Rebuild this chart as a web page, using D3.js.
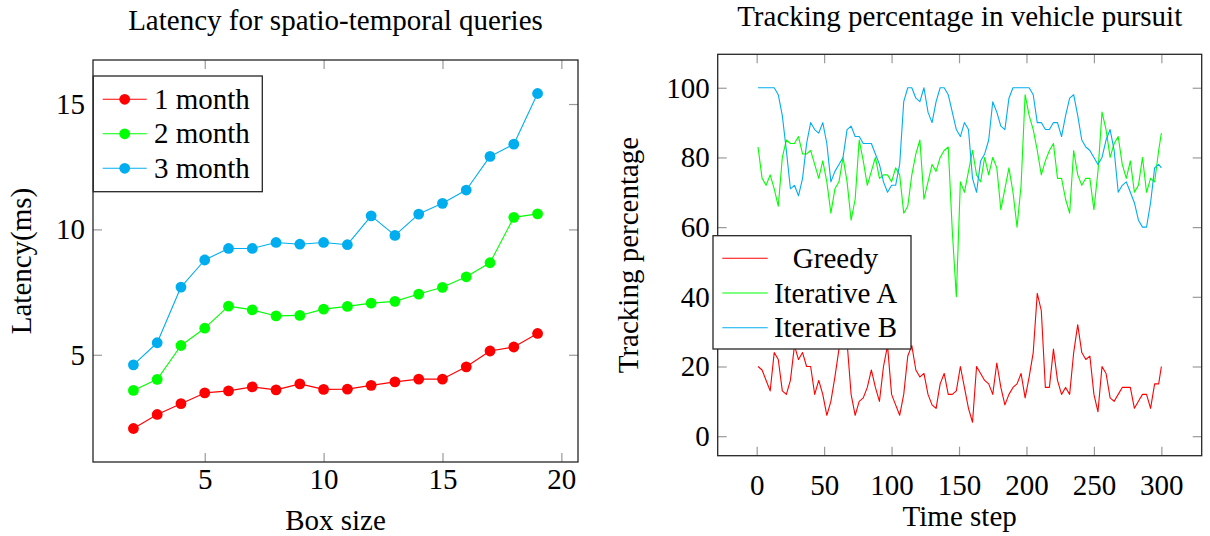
<!DOCTYPE html>
<html>
<head>
<meta charset="utf-8">
<script src="https://cdn.jsdelivr.net/npm/d3@7"></script>
<style>
body { margin: 0; background: #fff; }
svg { display: block; font-family: "Liberation Serif", "Times New Roman", serif; }
.axis path { display: none; }
.axis line { stroke: #9a9a9a; stroke-width: 1.2; }
.axis text { font-family: "Liberation Serif", serif; font-size: 29px; fill: #000; }
.frame { fill: none; stroke: #262626; stroke-width: 1.3; }
.title, .axis-label, .legend-text { font-size: 29px; fill: #000; }
.line { fill: none; stroke-width: 1.1; stroke-linejoin: round; }
.legend-box { fill: #fff; stroke: #262626; stroke-width: 1.3; }
</style>
</head>
<body>
<svg width="1210" height="536"></svg>
<script>
//Left chart data: latency (ms) against box size.
var boxSizes = [2, 3, 4, 5, 6, 7, 8, 9, 10, 11, 12, 13, 14, 15, 16, 17, 18, 19];
var latency1 = [2.06, 2.62, 3.05, 3.48, 3.56, 3.72, 3.60, 3.84, 3.62, 3.63, 3.78, 3.92, 4.03, 4.03, 4.52, 5.15, 5.31, 5.85];
var latency2 = [3.58, 4.02, 5.37, 6.06, 6.94, 6.79, 6.55, 6.57, 6.82, 6.93, 7.06, 7.13, 7.42, 7.69, 8.11, 8.67, 10.48, 10.62];
var latency3 = [4.60, 5.48, 7.70, 8.78, 9.24, 9.24, 9.48, 9.41, 9.48, 9.39, 10.54, 9.76, 10.61, 11.04, 11.57, 12.91, 13.40, 15.42];
var monthNames = ['1 month', '2 month', '3 month'];
var boxTicks = [5, 10, 15, 20];
var latencyTicks = [5, 10, 15];

//Right chart data: tracking percentage, read every third time step.
var timeSteps = [1, 4, 7, 10, 13, 16, 19, 22, 25, 28,
	31, 34, 37, 40, 43, 46, 49, 52, 55, 58,
	61, 64, 67, 70, 73, 76, 79, 82, 85, 88,
	91, 94, 97, 100, 103, 106, 109, 112, 115, 118,
	121, 124, 127, 130, 133, 136, 139, 142, 145, 148,
	151, 154, 157, 160, 163, 166, 169, 172, 175, 178,
	181, 184, 187, 190, 193, 196, 199, 202, 205, 208,
	211, 214, 217, 220, 223, 226, 229, 232, 235, 238,
	241, 244, 247, 250, 253, 256, 259, 262, 265, 268,
	271, 274, 277, 280, 283, 286, 289, 292, 295, 298, 300];
var greedy = [20, 19, 16, 13, 24, 22, 13, 12, 16, 26,
	22, 24, 20, 20, 12, 16, 12, 6, 10, 17,
	25, 28, 27, 12, 6, 10, 11, 14, 19, 14,
	10, 20, 26, 12, 9, 6, 12, 23, 26, 19,
	17, 18, 12, 9, 8, 15, 18, 12, 12, 13,
	20, 14, 8, 4, 20, 18, 16, 15, 12, 21,
	14, 9, 12, 14, 15, 18, 11, 17, 24, 41,
	36, 14, 14, 25, 16, 12, 14, 12, 24, 32,
	24, 22, 23, 12, 7, 20, 18, 11, 10, 12,
	14, 14, 14, 8, 10, 12, 12, 8, 15, 15, 20];
var iterativeA = [83, 74, 72, 75, 71, 66, 80, 85, 84, 84,
	86, 81, 81, 82, 78, 74, 79, 73, 64, 71,
	73, 80, 73, 62, 68, 85, 79, 72, 76, 80,
	74, 75, 75, 73, 77, 75, 64, 66, 75, 81,
	85, 68, 73, 78, 76, 80, 82, 83, 59, 40,
	73, 70, 76, 82, 75, 73, 80, 75, 80, 77,
	65, 71, 77, 70, 60, 72, 98, 92, 88, 82,
	75, 79, 82, 84, 74, 74, 68, 64, 82, 75,
	72, 74, 74, 65, 76, 93, 88, 80, 84, 86,
	78, 74, 79, 70, 72, 80, 70, 74, 73, 82, 87];
var iterativeB = [100, 100, 100, 100, 100, 98, 92, 82, 71, 72,
	69, 74, 84, 90, 88, 87, 90, 84, 73, 76,
	78, 80, 88, 89, 86, 86, 84, 84, 84, 81,
	78, 73, 70, 72, 72, 78, 96, 100, 100, 97,
	96, 100, 93, 90, 96, 100, 100, 98, 93, 88,
	86, 90, 88, 74, 70, 79, 81, 85, 96, 93,
	89, 88, 97, 100, 100, 100, 100, 100, 98, 90,
	90, 88, 88, 90, 90, 86, 92, 97, 98, 92,
	85, 83, 82, 80, 78, 80, 85, 88, 82, 70,
	72, 73, 70, 67, 62, 60, 60, 67, 77, 78, 77];
var methodNames = ['Greedy', 'Iterative A', 'Iterative B'];
var stepTicks = [0, 50, 100, 150, 200, 250, 300];
var trackingTicks = [0, 20, 40, 60, 80, 100];

var colors = ['#ff0000', '#00ff00', '#00aeef'];
var svg = d3.select('svg');

//pgfplots style: widen the data range by 10% on each side.
function enlarge(ext) {
	var pad = (ext[1] - ext[0]) * 0.1;
	return [ext[0] - pad, ext[1] + pad];
}

//Frame with inward ticks on all four sides; labels only bottom and left.
function drawFrame(g, x, y, xTicks, yTicks, xPad) {
	var w = x.range()[1] - x.range()[0], h = y.range()[0] - y.range()[1];
	g.append('g').attr('class', 'axis')
		.attr('transform', 'translate(0,' + y.range()[0] + ')')
		.call(d3.axisBottom(x).tickValues(xTicks).tickSize(-9).tickPadding(xPad));
	g.append('g').attr('class', 'axis')
		.attr('transform', 'translate(0,' + y.range()[1] + ')')
		.call(d3.axisTop(x).tickValues(xTicks).tickSize(-9).tickFormat(''));
	g.append('g').attr('class', 'axis')
		.attr('transform', 'translate(' + x.range()[0] + ',0)')
		.call(d3.axisLeft(y).tickValues(yTicks).tickSize(-9).tickPadding(8));
	g.append('g').attr('class', 'axis')
		.attr('transform', 'translate(' + x.range()[1] + ',0)')
		.call(d3.axisRight(y).tickValues(yTicks).tickSize(-9).tickFormat(''));
	g.append('rect').attr('class', 'frame')
		.attr('x', x.range()[0]).attr('y', y.range()[1])
		.attr('width', w).attr('height', h);
}

//---------- Left chart ----------
var left = svg.append('g');
var latencySeries = [latency1, latency2, latency3];
var xBox = d3.scaleLinear()
	.domain(enlarge(d3.extent(boxSizes)))
	.range([93, 578]);
var yLat = d3.scaleLinear()
	.domain(enlarge(d3.extent(d3.merge(latencySeries))))
	.range([462, 60]);
drawFrame(left, xBox, yLat, boxTicks, latencyTicks, 6);

latencySeries.forEach(function(vals, i) {
	var pts = boxSizes.map(function(b, j) { return [b, vals[j]]; });
	left.append('path')
		.datum(pts)
		.attr('class', 'line')
		.style('stroke', colors[i])
		.attr('d', d3.line()
			.x(function(d) { return xBox(d[0]); })
			.y(function(d) { return yLat(d[1]); }));
	left.selectAll(null)
		.data(pts)
		.enter().append('circle')
		.attr('cx', function(d) { return xBox(d[0]); })
		.attr('cy', function(d) { return yLat(d[1]); })
		.attr('r', 5.4)
		.style('fill', colors[i]);
});

//Legend (top left, inside the frame).
left.append('rect').attr('class', 'legend-box')
	.attr('x', 93.3).attr('y', 76).attr('width', 169).attr('height', 115.7);
monthNames.forEach(function(name, i) {
	var ly = 99.3 + i * 34.5;
	left.append('line')
		.attr('x1', 102.7).attr('x2', 146.7).attr('y1', ly).attr('y2', ly)
		.style('stroke', colors[i]).style('stroke-width', 1.1);
	left.append('circle')
		.attr('cx', 124.7).attr('cy', ly).attr('r', 5.4)
		.style('fill', colors[i]);
	left.append('text').attr('class', 'legend-text')
		.attr('x', 154).attr('y', ly + 9.5)
		.text(name);
});

left.append('text').attr('class', 'title')
	.attr('text-anchor', 'middle')
	.attr('x', 335.5).attr('y', 30)
	.text('Latency for spatio-temporal queries');
left.append('text').attr('class', 'axis-label')
	.attr('text-anchor', 'middle')
	.attr('x', 335.5).attr('y', 530)
	.text('Box size');
left.append('text').attr('class', 'axis-label')
	.attr('text-anchor', 'middle')
	.attr('transform', 'translate(31,261) rotate(-90)')
	.text('Latency(ms)');

//---------- Right chart ----------
var right = svg.append('g');
var trackSeries = [greedy, iterativeA, iterativeB];
var xStep = d3.scaleLinear()
	.domain(enlarge(d3.extent(timeSteps)))
	.range([717.7, 1201.7]);
var yTrack = d3.scaleLinear()
	.domain(enlarge(d3.extent(d3.merge(trackSeries))))
	.range([455.7, 54.3]);
drawFrame(right, xStep, yTrack, stepTicks, trackingTicks, 19);

trackSeries.forEach(function(vals, i) {
	right.append('path')
		.datum(timeSteps.map(function(t, j) { return [t, vals[j]]; }))
		.attr('class', 'line')
		.style('stroke', colors[i])
		.attr('d', d3.line()
			.x(function(d) { return xStep(d[0]); })
			.y(function(d) { return yTrack(d[1]); }));
});

//Legend (opaque, covers the lines behind it).
right.append('rect').attr('class', 'legend-box')
	.attr('x', 713).attr('y', 235.7).attr('width', 198).attr('height', 113.3);
methodNames.forEach(function(name, i) {
	var ly = 258.3 + i * 34.7;
	right.append('line')
		.attr('x1', 722.3).attr('x2', 767.7).attr('y1', ly).attr('y2', ly)
		.style('stroke', colors[i]).style('stroke-width', 1.1);
	right.append('text').attr('class', 'legend-text')
		.attr('text-anchor', 'middle')
		.attr('x', 835.5).attr('y', ly + 9.5)
		.text(name);
});

right.append('text').attr('class', 'title')
	.attr('text-anchor', 'middle')
	.attr('x', 959.7).attr('y', 26)
	.text('Tracking percentage in vehicle pursuit');
right.append('text').attr('class', 'axis-label')
	.attr('text-anchor', 'middle')
	.attr('x', 959.7).attr('y', 526)
	.text('Time step');
right.append('text').attr('class', 'axis-label')
	.attr('text-anchor', 'middle')
	.attr('transform', 'translate(638,255) rotate(-90)')
	.text('Tracking percentage');
</script>
</body>
</html>
